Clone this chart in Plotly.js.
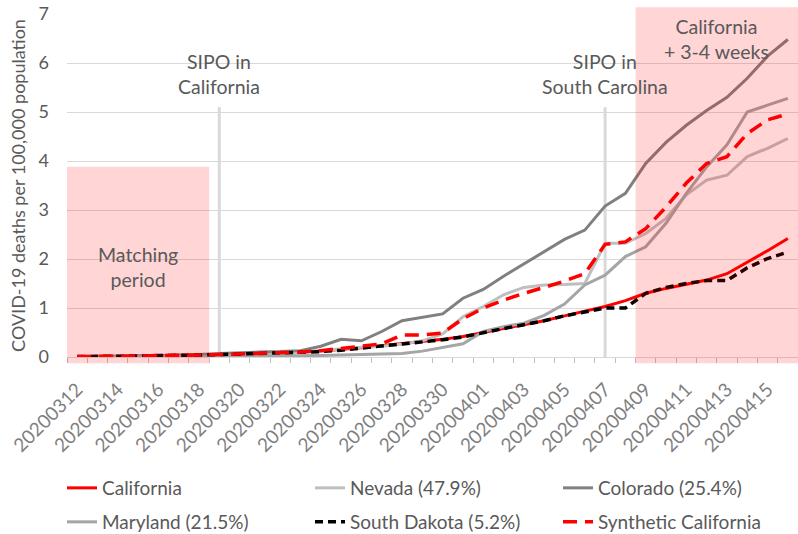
<!DOCTYPE html>
<html>
<head>
<meta charset="utf-8">
<script src="https://cdn.plot.ly/plotly-3.0.1.min.js"></script>
<style>html,body{margin:0;padding:0;background:#fff;}#chart{width:798px;height:534px;}</style>
</head>
<body>
<div id="chart"></div>
<script>
const dates = ["20200312","20200313","20200314","20200315","20200316","20200317","20200318","20200319","20200320","20200321","20200322","20200323","20200324","20200325","20200326","20200327","20200328","20200329","20200330","20200331","20200401","20200402","20200403","20200404","20200405","20200406","20200407","20200408","20200409","20200410","20200411","20200412","20200413","20200414","20200415","20200416"];
const california = [0.01,0.01,0.02,0.02,0.03,0.03,0.04,0.05,0.06,0.07,0.08,0.10,0.12,0.15,0.19,0.23,0.27,0.31,0.36,0.42,0.50,0.58,0.66,0.74,0.84,0.93,1.03,1.15,1.30,1.40,1.48,1.57,1.70,1.93,2.17,2.42];
const nevada = [0.00,0.00,0.01,0.01,0.02,0.02,0.03,0.04,0.05,0.06,0.07,0.09,0.12,0.17,0.20,0.22,0.26,0.33,0.47,0.82,1.03,1.27,1.42,1.47,1.48,1.50,2.32,2.32,2.52,2.83,3.31,3.61,3.71,4.09,4.26,4.46];
const colorado = [0.00,0.01,0.01,0.02,0.02,0.03,0.05,0.07,0.09,0.10,0.11,0.13,0.22,0.36,0.33,0.52,0.74,0.81,0.88,1.20,1.38,1.65,1.90,2.16,2.40,2.59,3.08,3.34,3.95,4.38,4.73,5.03,5.30,5.69,6.14,6.48];
const maryland = [0.00,0.00,0.00,0.00,0.00,0.01,0.01,0.01,0.02,0.02,0.03,0.03,0.03,0.04,0.05,0.05,0.07,0.12,0.20,0.27,0.52,0.62,0.69,0.85,1.08,1.47,1.67,2.05,2.25,2.73,3.34,3.88,4.33,5.00,5.14,5.28];
const southDakota = [0.01,0.01,0.02,0.02,0.03,0.03,0.04,0.05,0.06,0.07,0.08,0.09,0.11,0.14,0.18,0.22,0.26,0.30,0.35,0.41,0.50,0.58,0.66,0.74,0.84,0.92,1.00,1.00,1.30,1.42,1.50,1.56,1.56,1.82,2.01,2.14];
const synthetic = [0.01,0.01,0.02,0.02,0.03,0.03,0.04,0.05,0.06,0.07,0.08,0.10,0.13,0.17,0.22,0.27,0.45,0.45,0.49,0.78,1.00,1.16,1.30,1.42,1.55,1.70,2.30,2.35,2.62,3.06,3.55,3.95,4.09,4.56,4.84,4.96];
const tickLabels = dates.map((d, i) => i % 2 === 0 ? d : "");
const seriesNames = ["California","Nevada (47.9%)","Colorado (25.4%)","Maryland (21.5%)","South Dakota (5.2%)","Synthetic California"];
const sipoCA = "20200319";
const sipoSC = "20200407";
const matchEndIdx = 7;     // boundary index: end of matching period
const laterStartIdx = 28;  // boundary index: start of "+3-4 weeks"

const FONT = "Lato, 'Open Sans', sans-serif";
const N = dates.length;
const iCA = dates.indexOf(sipoCA);
const iSC = dates.indexOf(sipoSC);

function tr(y, name, color, width, dash, legend){
  return {x: dates, y: y, name: name, type: "scatter", mode: "lines",
          line: {color: color, width: width, dash: dash},
          legend: legend, hoverinfo: "skip"};
}
const data = [
  tr(california, seriesNames[0], "#ff0000", 3, "solid", "legend"),
  tr(nevada, seriesNames[1], "#bfbfbf", 3, "solid", "legend"),
  tr(colorado, seriesNames[2], "#808080", 3, "solid", "legend"),
  tr(maryland, seriesNames[3], "#a5a5a5", 3, "solid", "legend2"),
  tr(southDakota, seriesNames[4], "#000000", 3.5, "8px,5px", "legend2"),
  tr(synthetic, seriesNames[5], "#ff0000", 3.5, "14px,8px", "legend2")
];

const PW = 731, PH = 343, ML = 67, MT = 14;
const legBase = {orientation: "h", xref: "paper", yref: "paper", xanchor: "left", yanchor: "middle",
  x: (62 - ML) / PW, entrywidth: 203, entrywidthmode: "pixels",
  font: {family: FONT, size: 19, color: "#595959"}, bgcolor: "rgba(0,0,0,0)",
  itemclick: false, itemdoubleclick: false};

const annFont = {family: FONT, size: 19.5, color: "#595959"};
const ann = (x, xref, y, text) => ({x: x, xref: xref, y: y, yref: "y", text: text, showarrow: false,
  font: annFont, align: "center", xanchor: "center", yanchor: "middle"});
const layout = {
  width: 798, height: 534,
  margin: {l: ML, r: 0, t: MT, b: 534 - MT - PH, autoexpand: false},
  paper_bgcolor: "#ffffff", plot_bgcolor: "#ffffff",
  font: {family: FONT},
  showlegend: true,
  legend: Object.assign({}, legBase, {y: (MT + PH - 488) / PH}),
  legend2: Object.assign({}, legBase, {y: (MT + PH - 522) / PH}),
  xaxis: {type: "category", range: [-0.5, N - 0.5], tickmode: "array", tickvals: dates, ticktext: tickLabels,
    tickson: "boundaries", ticks: "outside", ticklen: 5, tickcolor: "#bfbfbf", tickangle: -45,
    ticklabelstandoff: 13,
    tickfont: {family: FONT, size: 19, color: "#7f7f7f"}, showgrid: false, showline: true,
    linecolor: "#d9d9d9", linewidth: 1, zeroline: false, fixedrange: true, automargin: false},
  yaxis: {range: [0, 7.001], tickvals: [0,1,2,3,4,5,6,7], showgrid: true, gridcolor: "#d9d9d9", gridwidth: 1,
    zeroline: false, showline: false, ticks: "", ticklabelstandoff: 17, automargin: false,
    tickfont: {family: FONT, size: 18, color: "#595959"},
    title: {text: "COVID-19 deaths per 100,000 population", font: {family: FONT, size: 18, color: "#595959"}, standoff: 8},
    fixedrange: true},
  shapes: [
    {type: "line", xref: "x", yref: "y", x0: iCA, x1: iCA, y0: 0, y1: 5.1, line: {color: "#d9d9d9", width: 3}, layer: "between"},
    {type: "line", xref: "x", yref: "y", x0: iSC, x1: iSC, y0: 0, y1: 5.1, line: {color: "#d9d9d9", width: 3}, layer: "between"},
    {type: "rect", xref: "paper", yref: "paper", x0: 0, x1: matchEndIdx / N, y0: -0.018, y1: 0.555, fillcolor: "rgba(255,0,0,0.165)", line: {width: 0}, layer: "above"},
    {type: "rect", xref: "paper", yref: "paper", x0: laterStartIdx / N, x1: 1, y0: -0.018, y1: 1.02, fillcolor: "rgba(255,0,0,0.165)", line: {width: 0}, layer: "above"}
  ],
  annotations: [
    ann(iCA, "x", 5.78, "SIPO in<br>California"),
    ann(iSC, "x", 5.78, "SIPO in<br>South Carolina"),
    ann((matchEndIdx - 1) / 2, "x", 1.84, "Matching<br>period"),
    ann((laterStartIdx + N) / 2 / N, "paper", 6.49, "California<br>+ 3-4 weeks")
  ]
};
Plotly.newPlot("chart", data, layout, {displayModeBar: false, staticPlot: true});
</script>
</body>
</html>
